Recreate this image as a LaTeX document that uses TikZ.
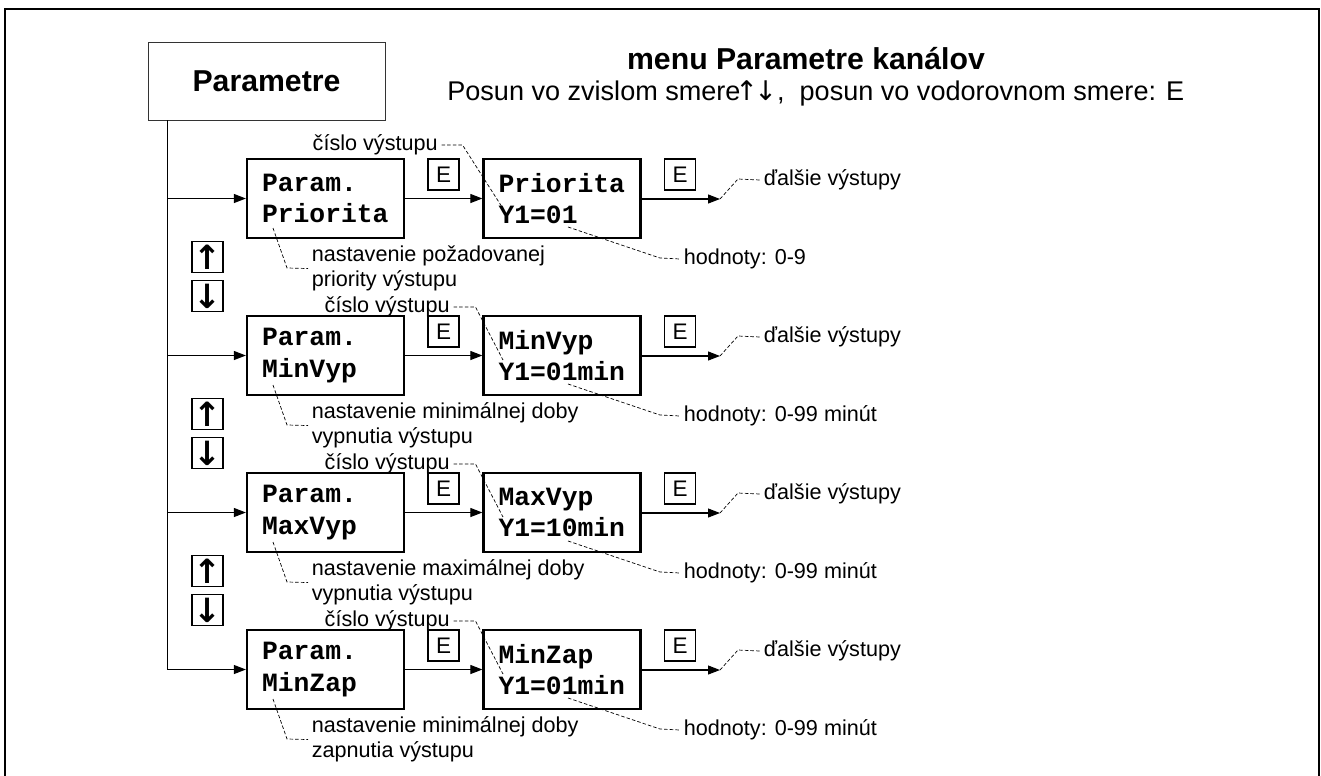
\documentclass[tikz,border=0pt]{standalone}
\usepackage{fontspec}
\setmainfont{Liberation Sans}
\newfontfamily\monofont{Liberation Mono}
\newfontfamily\arrowfont{DejaVu Sans}
\usetikzlibrary{arrows.meta}

\tikzset{
	menubox/.style={draw=black!80, line width=0.5pt, minimum width=4.74cm, minimum height=1.56cm, font=\fontsize{17.2}{20}\selectfont\bfseries},
	dispbox/.style={draw, line width=1.3pt, minimum height=1.58cm, text width=2.54cm, inner xsep=0.3cm, align=left, font=\fontsize{15}{18.1}\selectfont\monofont\bfseries},
	keybox/.style={draw, line width=0.9pt, minimum size=0.62cm, inner sep=0pt, font=\fontsize{12.8}{14}\selectfont},
	arrowkey/.style={keybox, font=\fontsize{19}{19}\selectfont\arrowfont\bfseries},
	note/.style={inner sep=2pt, align=left, font=\fontsize{12.3}{14.2}\selectfont},
	flow/.style={line width=0.6pt, -{Triangle[length=2.4mm,width=1.8mm]}},
	leader/.style={line width=0.4pt, dash pattern=on 2pt off 1.2pt},
}

\begin{document}
\begin{tikzpicture}[x=0.02cm, y=-0.02cm]
			%%%%% START %%%%%
			\useasboundingbox (0,0) rectangle (1321,775);
			\draw[line width=1.2pt] (5,9) rectangle (1319,800);
			
			\node[font=\fontsize{17.2}{20}\selectfont\bfseries] (title) at (806,59) {menu Parametre kanálov};
			\node[anchor=west, inner sep=0pt, font=\fontsize{15.4}{18}\selectfont] (hint) at (447,93) {Posun vo zvislom smere\kern-3pt{\arrowfont ↑\kern-2pt↓},\ \ posun vo vodorovnom smere: E};
			
			\node[menubox] (param) at (266.5,81) {Parametre};
			
			% row 1
			\node[dispbox] (p1) at (325.5,198.5) {Param.\\Priorita};
			\node[dispbox] (v1) at (562,198.5) {Priorita\\Y1=01};
			\node[keybox] (e1) at (443.5,174.5) {E};
			\node[keybox] (f1) at (680,174.5) {E};
			\coordinate (out1) at (720,199);
			\node[note, anchor=west] (next1) at (760,180) {ďalšie výstupy};
			\node[note, anchor=east] (num1) at (441.5,145) {číslo výstupu};
			\node[note, anchor=west] (val1) at (680,259) {hodnoty: 0-9};
			\node[note, anchor=west] (desc1) at (308,268.5) {nastavenie požadovanej\\priority výstupu};
			\node[arrowkey] (up1) at (207.5,257) {↑};
			\node[arrowkey] (dn1) at (207.5,296) {↓};
			
			% row 2
			\node[dispbox] (p2) at (325.5,355.5) {Param.\\MinVyp};
			\node[dispbox] (v2) at (562,355.5) {MinVyp\\Y1=01min};
			\node[keybox] (e2) at (443.5,331.5) {E};
			\node[keybox] (f2) at (680,331.5) {E};
			\coordinate (out2) at (720,356);
			\node[note, anchor=west] (next2) at (760,337) {ďalšie výstupy};
			\node[note, anchor=east] (num2) at (453.5,307) {číslo výstupu};
			\node[note, anchor=west] (val2) at (680,416) {hodnoty: 0-99 minút};
			\node[note, anchor=west] (desc2) at (308,425.5) {nastavenie minimálnej doby\\vypnutia výstupu};
			\node[arrowkey] (up2) at (207.5,414) {↑};
			\node[arrowkey] (dn2) at (207.5,453) {↓};
			
			% row 3
			\node[dispbox] (p3) at (325.5,512.5) {Param.\\MaxVyp};
			\node[dispbox] (v3) at (562,512.5) {MaxVyp\\Y1=10min};
			\node[keybox] (e3) at (443.5,488.5) {E};
			\node[keybox] (f3) at (680,488.5) {E};
			\coordinate (out3) at (720,513);
			\node[note, anchor=west] (next3) at (760,494) {ďalšie výstupy};
			\node[note, anchor=east] (num3) at (453.5,464) {číslo výstupu};
			\node[note, anchor=west] (val3) at (680,573) {hodnoty: 0-99 minút};
			\node[note, anchor=west] (desc3) at (308,582.5) {nastavenie maximálnej doby\\vypnutia výstupu};
			\node[arrowkey] (up3) at (207.5,571) {↑};
			\node[arrowkey] (dn3) at (207.5,610) {↓};
			
			% row 4
			\node[dispbox] (p4) at (325.5,669.5) {Param.\\MinZap};
			\node[dispbox] (v4) at (562,669.5) {MinZap\\Y1=01min};
			\node[keybox] (e4) at (443.5,645.5) {E};
			\node[keybox] (f4) at (680,645.5) {E};
			\coordinate (out4) at (720,670);
			\node[note, anchor=west] (next4) at (760,651) {ďalšie výstupy};
			\node[note, anchor=east] (num4) at (453.5,621) {číslo výstupu};
			\node[note, anchor=west] (val4) at (680,730) {hodnoty: 0-99 minút};
			\node[note, anchor=west] (desc4) at (308,739.5) {nastavenie minimálnej doby\\zapnutia výstupu};
			
			% arrows
			\coordinate (trunk) at ([xshift=0.4cm]param.south west);
			\draw[flow] (trunk) |- (p4.west);
			\draw[flow] (trunk |- p1.west) -- (p1.west);
			\draw[flow] (trunk |- p2.west) -- (p2.west);
			\draw[flow] (trunk |- p3.west) -- (p3.west);
			\draw[flow] (p1) -- (v1);
			\draw[flow] (p2) -- (v2);
			\draw[flow] (p3) -- (v3);
			\draw[flow] (p4) -- (v4);
			\draw[flow] (v1.east |- out1) -- (out1);
			\draw[flow] (v2.east |- out2) -- (out2);
			\draw[flow] (v3.east |- out3) -- (out3);
			\draw[flow] (v4.east |- out4) -- (out4);
			
			% dashed leaders
			\draw[leader] (out1) -- (738,179) -- (next1.west);
			\draw[leader] (out2) -- (738,336) -- (next2.west);
			\draw[leader] (out3) -- (738,493) -- (next3.west);
			\draw[leader] (out4) -- (738,650) -- (next4.west);
			
			\draw[leader] (num1.east) -- ++(21,0) -- (502,207);
			\draw[leader] (num2.east) -- ++(22,0) -- (503,360);
			\draw[leader] (num3.east) -- ++(22,0) -- (503,517);
			\draw[leader] (num4.east) -- ++(22,0) -- (503,674);
			
			\draw[leader] (568,227) -- (660,258) -- (val1.west);
			\draw[leader] (568,384) -- (660,415) -- (val2.west);
			\draw[leader] (568,541) -- (660,572) -- (val3.west);
			\draw[leader] (568,698) -- (660,729) -- (val4.west);
			
			\draw[leader] (273,228) -- (287,268) -- (desc1.west);
			\draw[leader] (273,385) -- (287,425) -- (desc2.west);
			\draw[leader] (273,542) -- (287,582) -- (desc3.west);
			\draw[leader] (273,699) -- (287,739) -- (desc4.west);
			
			%%%%% END %%%%%
\end{tikzpicture}
\end{document}
